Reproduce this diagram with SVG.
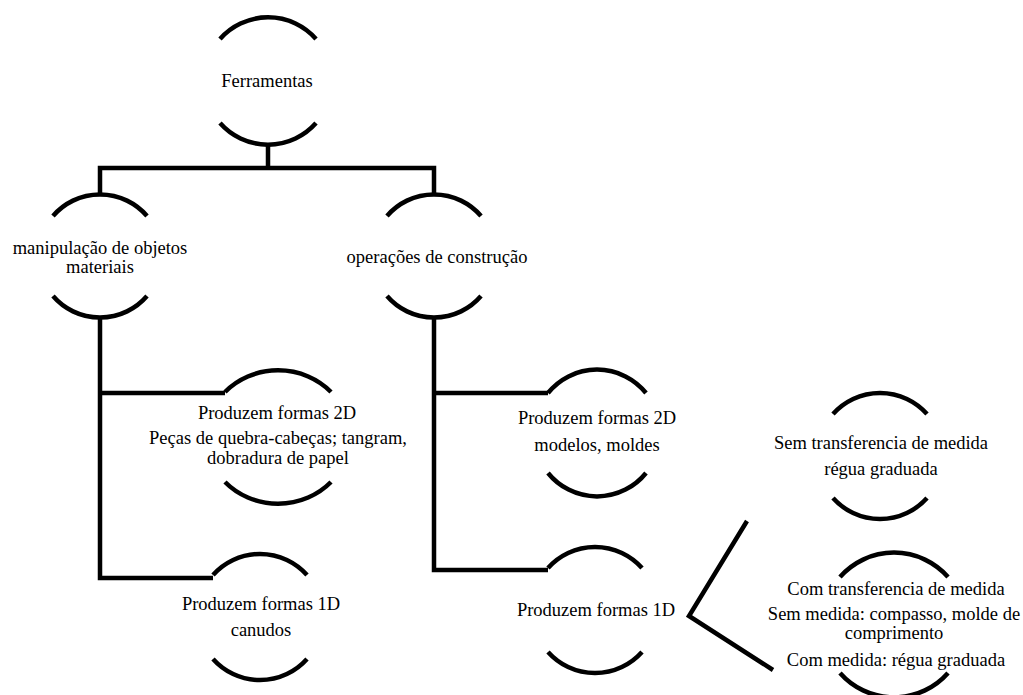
<svg xmlns="http://www.w3.org/2000/svg" width="1023" height="695" viewBox="0 0 1023 695">
<style>
.arc{fill:none;stroke:#000;stroke-width:4.5}
.ln{fill:none;stroke:#000;stroke-width:4.5;stroke-linejoin:miter}
text{font-family:"Liberation Serif","Times New Roman",serif;font-size:18.5px;fill:#000;text-anchor:middle}
</style>
<rect width="1023" height="695" fill="#fff"/>
<g id="connectors">
<path class="ln" d="M268 145V168M100 194V168H434V194"/>
<path class="ln" d="M100 318V578H213M100 393H225"/>
<path class="ln" d="M434 318V570H548M434 393H548"/>
<path class="ln" d="M747 521L689 616L773 670"/>
</g>
<g id="n-ferramentas">
<path class="arc" d="M220 39A64 64 0 0 1 316 39M220 123A64 64 0 0 0 316 123"/>
<text x="267" y="87">Ferramentas</text>
</g>
<g id="n-manipulacao">
<path class="arc" d="M53 216A62 62 0 0 1 147 216M53 296A62 62 0 0 0 147 296"/>
<text x="100" y="254">manipulação de objetos</text>
<text x="100" y="273">materiais</text>
</g>
<g id="n-operacoes">
<path class="arc" d="M387 216A62 62 0 0 1 481 216M387 296A62 62 0 0 0 481 296"/>
<text x="437" y="263">operações de construção</text>
</g>
<g id="n-manip-2d">
<path class="arc" d="M225 392A72 67 0 0 1 331 392M225 482A72 67 0 0 0 331 482"/>
<text x="277" y="419">Produzem formas 2D</text>
<text x="278" y="444">Peças de quebra-cabeças; tangram,</text>
<text x="278" y="464">dobradura de papel</text>
</g>
<g id="n-manip-1d">
<path class="arc" d="M213 575A63 63 0 0 1 307 575M213 659A63 63 0 0 0 307 659"/>
<text x="261" y="610">Produzem formas 1D</text>
<text x="261" y="636">canudos</text>
</g>
<g id="n-oper-2d">
<path class="arc" d="M548 393A63 63 0 0 1 646 393M548 473A63 63 0 0 0 646 473"/>
<text x="597" y="424">Produzem formas 2D</text>
<text x="597" y="451">modelos, moldes</text>
</g>
<g id="n-oper-1d">
<path class="arc" d="M548 568A63 63 0 0 1 642 568M548 652A63 63 0 0 0 642 652"/>
<text x="596" y="616">Produzem formas 1D</text>
</g>
<g id="n-sem-transf">
<path class="arc" d="M833 414A63 63 0 0 1 927 414M833 498A63 63 0 0 0 927 498"/>
<text x="881" y="449">Sem transferencia de medida</text>
<text x="881" y="475">régua graduada</text>
</g>
<g id="n-com-transf">
<path class="arc" d="M840 577A72 72 0 0 1 948 577M840 673A72 72 0 0 0 948 673"/>
<text x="896" y="595">Com transferencia de medida</text>
<text x="894" y="620">Sem medida: compasso, molde de</text>
<text x="894" y="639">comprimento</text>
<text x="896" y="666">Com medida: régua graduada</text>
</g>
</svg>
